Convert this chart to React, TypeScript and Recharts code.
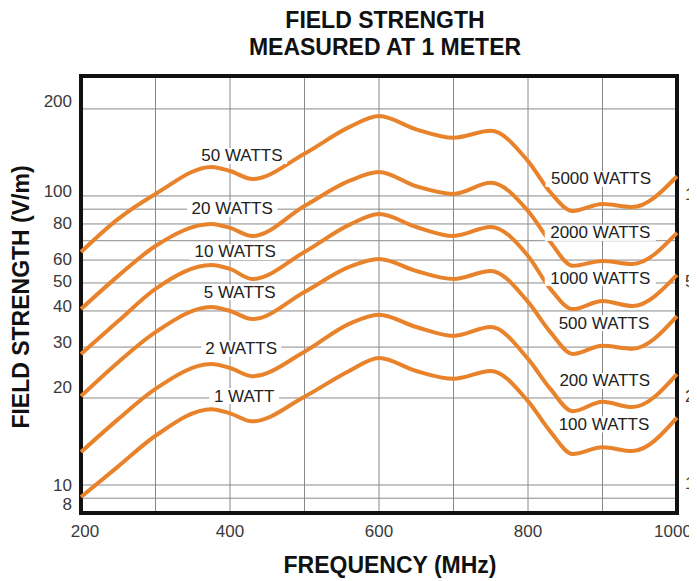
import React from 'react';
import { LineChart, Line, XAxis, YAxis, CartesianGrid, ReferenceDot, ReferenceArea } from 'recharts';

// Frequency (MHz) sample points
const frequencies = [200, 250, 300, 375, 400, 430, 500, 560, 600, 650, 700, 750, 800, 830, 860, 900, 940, 1000];

// Field strength (V/m) per transmit power curve
const watts50 = [64.0, 83.3, 101.6, 126, 122, 114.5, 140, 173, 189, 170, 159, 168, 132, 103, 88.7, 93.8, 91.6, 117];
const watts20 = [40.6, 52.9, 67.1, 80.0, 77.5, 72.7, 92.3, 112.7, 121, 108, 101.6, 111, 88.7, 69.3, 57.3, 59.6, 58.2, 74.5];
const watts10 = [28.4, 36.9, 47.7, 57.7, 55.9, 51.6, 64.0, 79.4, 86.6, 78.1, 72.7, 78.1, 62.0, 47.7, 40.6, 43.3, 41.6, 53.3];
const watts5 = [20.3, 26.6, 33.8, 41.3, 40.0, 37.5, 46.5, 56.8, 60.5, 55.0, 51.6, 55.0, 43.0, 33.8, 28.4, 30.3, 29.6, 38.4];
const watts2 = [13.0, 16.9, 21.5, 26.2, 25.4, 23.8, 28.9, 36.1, 38.8, 35.2, 32.8, 35.2, 27.3, 21.5, 18.0, 19.4, 18.6, 24.2];
const watts1 = [9.09, 11.6, 14.8, 18.3, 17.7, 16.6, 20.2, 24.8, 27.5, 24.8, 23.3, 24.8, 19.5, 15.3, 12.8, 13.5, 13.1, 17.1];

const seriesKeys = ['w50', 'w20', 'w10', 'w5', 'w2', 'w1'];
const seriesValues = [watts50, watts20, watts10, watts5, watts2, watts1];

// Axis ticks
const xTicks = [200, 300, 400, 500, 600, 700, 800, 900, 1000];
const xLabeled = [200, 400, 600, 800, 1000];
const yTicks = [8, 9, 10, 20, 30, 40, 50, 60, 70, 80, 90, 100, 200];
const yLabeled = [8, 10, 20, 30, 40, 50, 60, 80, 100, 200];
const yRightTicks = [10, 20, 50, 100];
const yRightLabels = ['1', '2', '5', '10'];
const yDomain = [8, 260];

// Curve labels (frequency, field strength)
const leftLabelText = ['50 WATTS', '20 WATTS', '10 WATTS', '5 WATTS', '2 WATTS', '1 WATT'];
const leftLabelFreq = [416, 403, 407, 413, 415, 419];
const leftLabelValue = [137.5, 90.2, 64, 46.5, 29.6, 20.3];
const rightLabelText = ['5000 WATTS', '2000 WATTS', '1000 WATTS', '500 WATTS', '200 WATTS', '100 WATTS'];
const rightLabelFreq = [898, 897, 897, 902, 903, 902];
const rightLabelValue = [114.5, 74.5, 52, 36.3, 22.9, 16.2];

const data = frequencies.map((f, i) => {
  const row: any = { f };
  seriesKeys.forEach((k, j) => {
    row[k] = seriesValues[j][i];
  });
  return row;
});

const FONT = '"Liberation Sans", Arial, Helvetica, sans-serif';
const ORANGE = '#E8832B';
const GRID = '#8a8a8a';

const leftOffsets: Record<number, number> = { 200: -7, 100: -4, 80: 0, 60: -1, 50: -1, 40: -4, 30: -5, 20: -10, 10: 1, 8: -9 };
const bottomOffsets: Record<number, number> = { 200: 4, 1000: -4 };

const LeftTick = (props: any) => {
  const { x, y, payload } = props;
  const v = payload.value;
  if (!yLabeled.includes(v)) return <g />;
  return (
    <text x={x - 9} y={y + (leftOffsets[v] ?? -3)} textAnchor="end" dominantBaseline="central" fontSize={17} fill="#3a3a3a" fontFamily={FONT}>
      {String(v)}
    </text>
  );
};

const RightTick = (props: any) => {
  const { x, y, payload } = props;
  const idx = yRightTicks.indexOf(payload.value);
  if (idx < 0) return <g />;
  return (
    <text x={x + 8} y={y - 1} textAnchor="start" dominantBaseline="central" fontSize={17} fill="#3a3a3a" fontFamily={FONT}>
      {yRightLabels[idx]}
    </text>
  );
};

const BottomTick = (props: any) => {
  const { x, y, payload } = props;
  const v = payload.value;
  if (!xLabeled.includes(v)) return <g />;
  return (
    <text x={x + (bottomOffsets[v] ?? 0)} y={y + 18} textAnchor="middle" dominantBaseline="central" fontSize={17} fill="#3a3a3a" fontFamily={FONT}>
      {String(v)}
    </text>
  );
};

const makeLabel = (text: string) => (props: any) => {
  const { cx, cy } = props;
  const w = text.length * 10.3 + 8;
  return (
    <g>
      <rect x={cx - w / 2} y={cy - 8} width={w} height={16} fill="#ffffff" />
      <text x={cx} y={cy} textAnchor="middle" dominantBaseline="central" fontSize={17} fill="#222" fontFamily={FONT}>
        {text}
      </text>
    </g>
  );
};

export default function App() {
  return (
    <div style={{ position: 'relative', width: 689, height: 573, overflow: 'hidden', background: '#fff' }}>
      <LineChart width={689} height={573} data={data} margin={{ top: 68, right: 0, bottom: 0, left: 0 }} style={{ overflow: 'visible' }}>
        <CartesianGrid stroke={GRID} strokeWidth={1} />
        <XAxis
          dataKey="f"
          type="number"
          domain={[200, 1000]}
          ticks={xTicks}
          height={68}
          tickSize={0}
          tickMargin={0}
          tickLine={false}
          axisLine={false}
          tick={<BottomTick />}
          interval={0}
        />
        <YAxis
          type="number"
          scale="log"
          domain={yDomain}
          allowDataOverflow
          ticks={yTicks}
          width={73}
          tickSize={0}
          tickMargin={0}
          tickLine={false}
          axisLine={false}
          tick={<LeftTick />}
          interval={0}
        />
        <YAxis
          yAxisId="right"
          orientation="right"
          type="number"
          scale="log"
          domain={yDomain}
          allowDataOverflow
          ticks={yRightTicks}
          width={20}
          tickSize={0}
          tickMargin={0}
          tickLine={false}
          axisLine={false}
          tick={<RightTick />}
          interval={0}
        />
        <ReferenceArea x1={200} x2={1000} y1={8} y2={260} fill="none" stroke="#111" strokeWidth={4} />
        {seriesKeys.map((k) => (
          <Line
            key={k}
            dataKey={k}
            type="monotone"
            stroke={ORANGE}
            strokeWidth={4}
            dot={false}
            isAnimationActive={false}
          />
        ))}
        {leftLabelText.map((t, i) => (
          <ReferenceDot key={'l' + i} x={leftLabelFreq[i]} y={leftLabelValue[i]} r={0} shape={makeLabel(t)} />
        ))}
        {rightLabelText.map((t, i) => (
          <ReferenceDot key={'r' + i} x={rightLabelFreq[i]} y={rightLabelValue[i]} r={0} shape={makeLabel(t)} />
        ))}
      </LineChart>
      <svg width={689} height={573} style={{ position: 'absolute', left: 0, top: 0, pointerEvents: 'none' }}>
        <g fontFamily={FONT} fontWeight="bold" fill="#111" fontSize={23}>
          <text x={377} y={20} textAnchor="middle">FIELD STRENGTH</text>
          <text x={377} y={47} textAnchor="middle">MEASURED AT 1 METER</text>
          <text x={382} y={565} textAnchor="middle">FREQUENCY (MHz)</text>
          <text x={13} y={289} textAnchor="middle" dominantBaseline="central" transform="rotate(-90 13 289)">
            FIELD STRENGTH  (V/m)
          </text>
        </g>
      </svg>
    </div>
  );
}
